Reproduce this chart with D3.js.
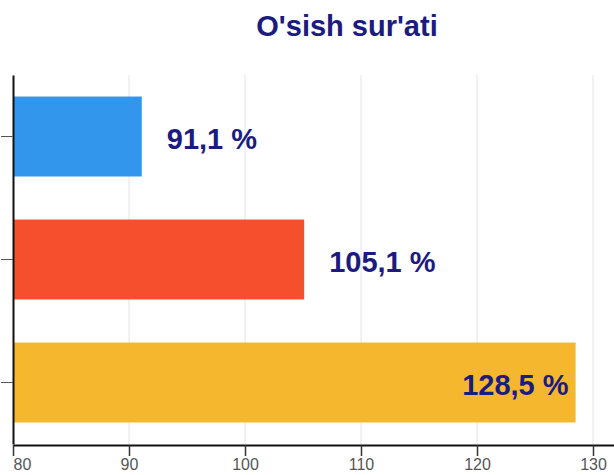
<!DOCTYPE html>
<meta charset="utf-8">
<style>
  body { margin: 0; background: #fff; }
  text { font-family: "Liberation Sans", Arial, sans-serif; }
</style>
<script src="https://d3js.org/d3.v7.min.js"></script>
<div id="my_dataviz"></div>
<script>
// data
var categories = ["A", "B", "C"];
var values = [91.1, 105.1, 128.5];
var labels = ["91,1 %", "105,1 %", "128,5 %"];
var colors = ["#3196ec", "#f4502e", "#f5b72d"];
var xTicks = [80, 90, 100, 110, 120, 130];

var width = 614, height = 475;

var svg = d3.select("#my_dataviz")
  .append("svg")
    .attr("width", width)
    .attr("height", height);

// x scale: 80 at 13px, 10 units ~ 116px (chart is cropped at the right)
var x = d3.scaleLinear()
  .domain([80, 140])
  .range([13, 709]);

var y = d3.scaleBand()
  .domain(categories)
  .range([75, 444])
  .paddingInner(0.35)
  .paddingOuter(0.175);

// title
svg.append("text")
  .attr("x", 347)
  .attr("y", 36)
  .attr("text-anchor", "middle")
  .attr("fill", "#1b1b80")
  .style("font-size", "29px")
  .style("font-weight", "bold")
  .text("O'sish sur'ati");

// gridlines
svg.append("g")
  .selectAll("line")
  .data(xTicks.slice(1))
  .enter()
  .append("line")
    .attr("x1", d => x(d))
    .attr("x2", d => x(d))
    .attr("y1", 75)
    .attr("y2", 444)
    .attr("stroke", "#e4e4e4")
    .attr("stroke-width", 1);

// bars
svg.append("g")
  .selectAll("rect")
  .data(values)
  .enter()
  .append("rect")
    .attr("x", x(80))
    .attr("y", (d, i) => y(categories[i]))
    .attr("width", d => x(d) - x(80))
    .attr("height", y.bandwidth())
    .attr("fill", (d, i) => colors[i]);

// value labels: outside the bar unless it would not fit
svg.append("g")
  .selectAll("text")
  .data(values)
  .enter()
  .append("text")
    .attr("x", (d, i) => i == values.length - 1 ? x(d) - 7 : x(d) + 25)
    .attr("y", (d, i) => y(categories[i]) + y.bandwidth() / 2 + 12)
    .attr("text-anchor", (d, i) => i == values.length - 1 ? "end" : "start")
    .attr("fill", "#1b1b80")
    .style("font-size", "29px")
    .style("font-weight", "bold")
    .text((d, i) => labels[i]);

// x axis
var xAxis = svg.append("g")
  .attr("transform", "translate(0,445)")
  .call(d3.axisBottom(x).tickValues(xTicks).tickSize(11).tickPadding(3).tickSizeOuter(0));
xAxis.select(".domain").attr("stroke", "#111").attr("stroke-width", 2);
xAxis.selectAll(".tick line").attr("stroke", "#333").attr("stroke-width", 1.5);
xAxis.selectAll(".tick text")
  .attr("fill", "#555")
  .style("font-size", "16px")
  .style("font-family", "'Liberation Sans', Arial, sans-serif");
xAxis.selectAll(".tick text").filter(d => d == 80).attr("text-anchor", "start");

// y axis
var yAxis = svg.append("g")
  .attr("transform", "translate(13,0)")
  .call(d3.axisLeft(y).tickSize(12).tickSizeOuter(0).tickFormat(""));
yAxis.select(".domain").attr("stroke", "#111").attr("stroke-width", 2);
yAxis.selectAll(".tick line").attr("stroke", "#555").attr("stroke-width", 1);
</script>
